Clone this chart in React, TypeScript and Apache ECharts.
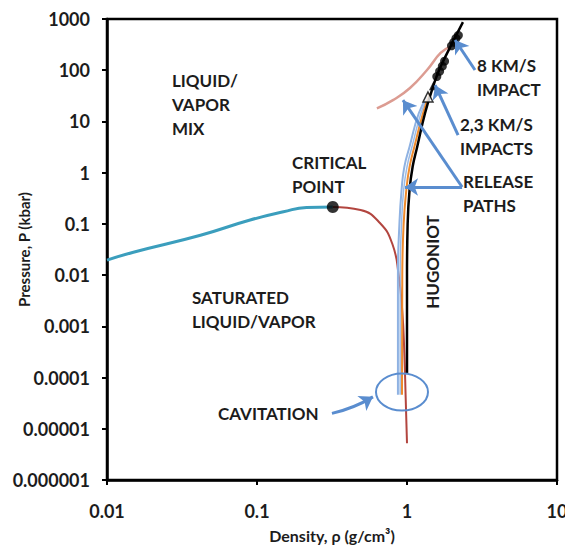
import React, { useEffect, useRef } from "react";
import * as echarts from "echarts";

// ---- Data ----
const xTickLabels = ["0.01", "0.1", "1", "10"];
const yTickLabels = ["0.000001", "0.00001", "0.0001", "0.001", "0.01", "0.1", "1", "10", "100", "1000"];

// saturated vapor branch (teal)
const vaporRho = [0.01, 0.015, 0.042, 0.09, 0.15, 0.214, 0.32];
const vaporP = [0.0196, 0.028, 0.06, 0.119, 0.172, 0.21, 0.213];

// saturated liquid branch (red)
const liquidRho = [0.32, 0.49, 0.66, 0.8, 0.88, 0.93, 0.96, 0.98, 1.0];
const liquidP = [0.213, 0.186, 0.104, 0.04, 0.01, 0.002, 0.0003, 0.00004, 0.0000052];

// critical point
const criticalRho = [0.32];
const criticalP = [0.213];

// Hugoniot (black)
const hugRho = [1.0, 1.0, 1.01, 1.04, 1.09, 1.17, 1.32, 1.49, 1.66, 2.02, 2.36];
const hugP = [0.00012, 0.01, 0.1, 0.46, 1.3, 3.2, 14.6, 47, 110, 355, 870];

// Hugoniot data markers
const hugDotRho = [1.58, 1.65, 1.72, 1.78, 1.98, 2.05, 2.12, 2.2];
const hugDotP = [75, 95, 120, 150, 300, 350, 420, 480];
const triOpenRho = [1.38];
const triOpenP = [30];
const triFillRho = [1.5];
const triFillP = [50];

// release paths
const release1Rho = [0.87, 0.87, 0.89, 0.92, 0.96, 1.04, 1.2, 1.36];
const release1P = [0.000046, 0.01, 0.1, 0.46, 1.3, 3.2, 14.6, 30];
const release2Rho = [0.9, 0.9, 0.92, 0.95, 1.0, 1.08, 1.24, 1.38];
const release2P = [0.000046, 0.01, 0.1, 0.46, 1.3, 3.2, 14.6, 30];
const releaseOrRho = [0.926, 0.93, 0.95, 0.99, 1.04, 1.12, 1.28, 1.42];
const releaseOrP = [0.000046, 0.01, 0.1, 0.46, 1.3, 3.2, 14.6, 35];

// pink curve (8 km/s release)
const pinkRho = [0.63, 0.806, 1.047, 1.36, 1.675, 1.93];
const pinkP = [18, 26, 45, 101, 217, 285];

// annotation arrows [tail, head] in data coordinates
const arrow8Tail = [2.84, 101];
const arrow8Head = [2.09, 389];
const arrow23Tail = [2.19, 5.4];
const arrow23Head = [1.54, 51];
const arrowRelTail = [2.33, 0.525];
const arrowRelHead1 = [0.94, 26];
const arrowRelHead2 = [0.97, 0.525];
const arrowCavTail = [0.316, 0.00002];
const arrowCavHead = [0.593, 0.000042];
const cavitationCenter = [0.926, 0.000052];

const zip = (a: number[], b: number[]) => a.map((v, i) => [v, b[i]]);

const FONT = "Lato";
const TXT = "#1c1c1c";

export default function App() {
  const ref = useRef<HTMLDivElement>(null);
  useEffect(() => {
    if (!ref.current) return;
    const chart = echarts.init(ref.current, null, { renderer: "svg" });
    const lineS = (data: number[][], color: string, width: number, z = 2) => ({
      type: "line",
      data,
      smooth: true,
      showSymbol: false,
      symbol: "none",
      lineStyle: { color, width },
      z,
      silent: true,
    });
    const arrowStyle = { color: "#5a8dcf", width: 3, opacity: 1 };
    chart.setOption({
      animation: false,
      grid: {
        left: 107,
        right: 8,
        top: 19,
        bottom: 70,
        show: true,
        borderColor: "#000",
        borderWidth: 2.5,
        outerBoundsMode: "none",
        containLabel: false,
      },
      xAxis: {
        type: "log",
        logBase: 10,
        min: 0.01,
        max: 10,
        splitNumber: 3,
        splitLine: { show: false },
        axisLine: { lineStyle: { color: "#000", width: 2.5 } },
        axisTick: { show: true, length: 5, lineStyle: { color: "#000", width: 2 } },
        axisLabel: {
          margin: 22,
          color: TXT,
          fontFamily: FONT,
          fontWeight: "bold",
          fontSize: 18,
          formatter: (v: number) => xTickLabels[Math.round(Math.log10(v)) + 2],
        },
        name: "Density, ρ (g/cm³)",
        nameLocation: "middle",
        nameGap: 47,
        nameMoveOverlap: false,
        nameTextStyle: { color: TXT, fontFamily: FONT, fontWeight: "bold", fontSize: 16 },
      },
      yAxis: {
        type: "log",
        logBase: 10,
        min: 0.000001,
        max: 1000,
        splitNumber: 9,
        splitLine: { show: false },
        axisLine: { lineStyle: { color: "#000", width: 2.5 } },
        axisTick: { show: true, length: 5, lineStyle: { color: "#000", width: 2 } },
        axisLabel: {
          margin: 17,
          color: TXT,
          fontFamily: FONT,
          fontWeight: "bold",
          fontSize: 18,
          formatter: (v: number) => yTickLabels[Math.round(Math.log10(v)) + 6],
        },
        name: "Pressure, P (kbar)",
        nameLocation: "middle",
        nameGap: 76,
        nameMoveOverlap: false,
        nameTextStyle: { color: TXT, fontFamily: FONT, fontWeight: "bold", fontSize: 15 },
      },
      series: [
        lineS(zip(vaporRho, vaporP), "#3b9ebd", 3),
        lineS(zip(liquidRho, liquidP), "#b2453f", 2),
        lineS(zip(pinkRho, pinkP), "#dc9c92", 2.5),
        lineS(zip(release1Rho, release1P), "#8fb2e2", 2),
        lineS(zip(release2Rho, release2P), "#9bbbe6", 1.5),
        lineS(zip(releaseOrRho, releaseOrP), "#ee8a2c", 2),
        lineS(zip(hugRho, hugP), "#000000", 2.5, 3),
        {
          type: "scatter",
          data: zip(hugDotRho, hugDotP),
          symbol: "circle",
          symbolSize: 9,
          itemStyle: { color: "#000" },
          z: 4,
          silent: true,
        },
        {
          type: "scatter",
          data: zip(triFillRho, triFillP),
          symbol: "triangle",
          symbolSize: 9,
          itemStyle: { color: "#000" },
          z: 4,
          silent: true,
        },
        {
          type: "scatter",
          data: zip(triOpenRho, triOpenP),
          symbol: "triangle",
          symbolSize: 10,
          itemStyle: { color: "#fff", borderColor: "#000", borderWidth: 1.5 },
          z: 4,
          silent: true,
        },
        {
          type: "scatter",
          data: zip(criticalRho, criticalP),
          symbol: "circle",
          symbolSize: 12,
          itemStyle: { color: "#000" },
          z: 5,
          silent: true,
        },
        {
          type: "lines",
          coordinateSystem: "cartesian2d",
          symbol: ["none", "arrow"],
          symbolSize: 13,
          lineStyle: arrowStyle,
          z: 6,
          silent: true,
          data: [
            { coords: [arrow8Tail, arrow8Head] },
            { coords: [arrow23Tail, arrow23Head] },
            { coords: [arrowRelTail, arrowRelHead1] },
            { coords: [arrowRelTail, arrowRelHead2] },
            { coords: [arrowCavTail, arrowCavHead], lineStyle: { curveness: -0.08, opacity: 1, color: "#5a8dcf", width: 3 } },
          ],
        },
      ],
    });

    const c = chart.convertToPixel({ gridIndex: 0 }, cavitationCenter) as number[];
    const t = (text: string, x: number, y: number, extra: any = {}) => ({
      type: "text",
      x,
      y,
      z: 10,
      style: {
        text,
        fill: TXT,
        font: `bold 17px ${FONT}`,
        textVerticalAlign: "middle",
        lineHeight: 24,
        ...extra,
      },
    });
    chart.setOption({
      graphic: [
        {
          type: "ellipse",
          shape: { cx: c[0], cy: c[1], rx: 26, ry: 18.5 },
          style: { fill: "none", stroke: "#5a8dcf", lineWidth: 2 },
          z: 6,
        },
        t("LIQUID/\nVAPOR\nMIX", 172, 104),
        t("CRITICAL\nPOINT", 292, 174),
        t("SATURATED\nLIQUID/VAPOR", 192, 309),
        t("CAVITATION", 218, 413),
        t("8 KM/S\nIMPACT", 477, 77),
        t("2,3 KM/S\nIMPACTS", 460, 136),
        t("RELEASE\nPATHS", 463, 193),
        {
          type: "text",
          x: 432,
          y: 262,
          rotation: Math.PI / 2,
          z: 10,
          style: {
            text: "HUGONIOT",
            fill: TXT,
            font: `bold 17px ${FONT}`,
            textAlign: "center",
            textVerticalAlign: "middle",
          },
        },
      ],
    });
    return () => chart.dispose();
  }, []);
  return (
    <div
      ref={ref}
      style={{ position: "fixed", left: 0, top: 0, width: 565, height: 550, background: "#fff" }}
    />
  );
}
